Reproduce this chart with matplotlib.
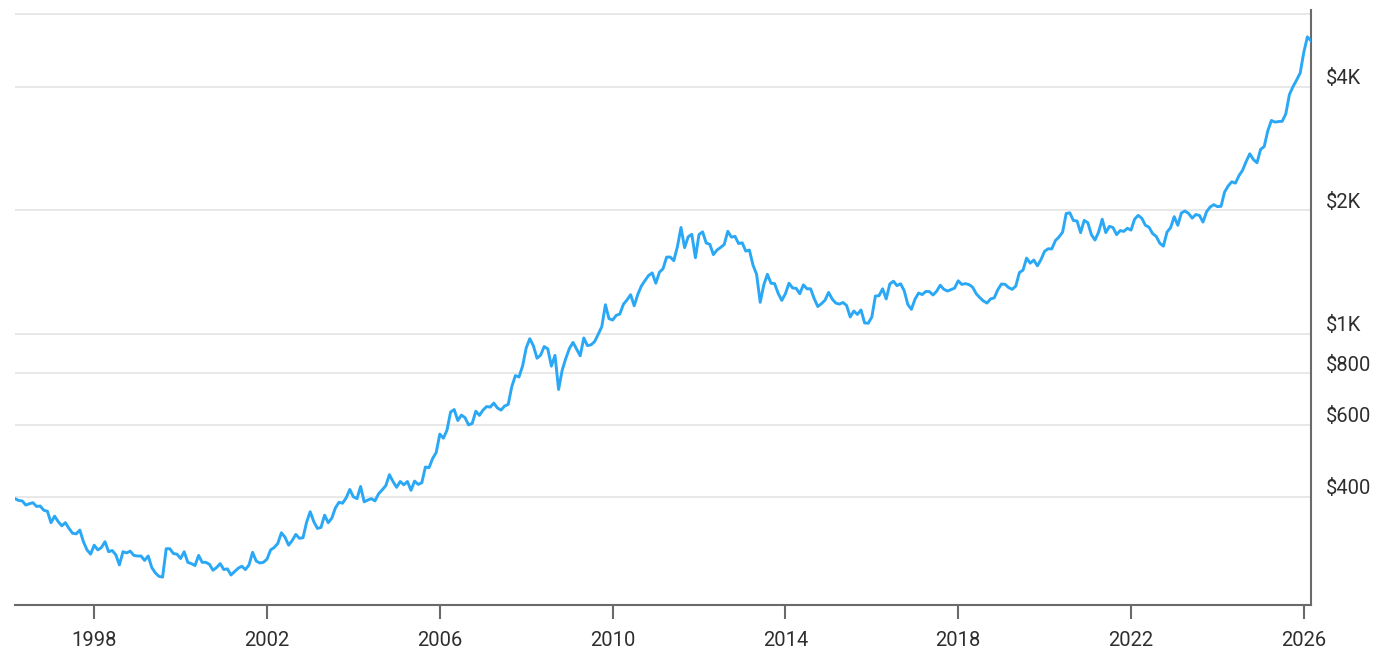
import matplotlib
matplotlib.use("Agg")
import matplotlib.pyplot as plt
import matplotlib.transforms as mtransforms
import numpy as np

# Month-end gold price, USD per troy ounce (series starts March 1996)
start_year = 1996
start_month = 3
gold_1996 = [396, 392, 391, 382, 385, 387, 379, 380, 371, 369]
gold_1997 = [346, 359, 348, 340, 346, 335, 326, 325, 332, 311, 297, 290]
gold_1998 = [305, 297, 301, 311, 294, 296, 289, 273, 294, 292, 295, 288]
gold_1999 = [287, 287, 280, 287, 269, 261, 256, 255, 299, 299, 291, 290]
gold_2000 = [283, 294, 277, 275, 272, 288, 277, 277, 274, 265, 269, 275]
gold_2001 = [266, 267, 258, 263, 268, 271, 266, 273, 293, 279, 276, 277]
gold_2002 = [282, 297, 301, 308, 327, 319, 305, 313, 324, 317, 318, 347]
gold_2003 = [368, 348, 335, 337, 361, 346, 355, 376, 388, 386, 398, 417]
gold_2004 = [400, 396, 424, 389, 393, 396, 391, 407, 416, 426, 453, 436]
gold_2005 = [422, 436, 428, 436, 415, 437, 429, 433, 473, 471, 496, 513]
gold_2006 = [569, 556, 582, 644, 653, 614, 633, 624, 599, 604, 647, 632]
gold_2007 = [651, 664, 662, 677, 659, 651, 666, 672, 743, 790, 784, 834]
gold_2008 = [923, 972, 934, 871, 886, 930, 918, 833, 885, 731, 815, 870]
gold_2009 = [920, 952, 917, 883, 976, 935, 939, 956, 996, 1040, 1176, 1088]
gold_2010 = [1079, 1108, 1116, 1179, 1208, 1244, 1169, 1246, 1307, 1347, 1386, 1406]
gold_2011 = [1327, 1411, 1439, 1536, 1537, 1506, 1629, 1814, 1620, 1722, 1746, 1531]
gold_2012 = [1744, 1770, 1663, 1651, 1558, 1599, 1622, 1649, 1776, 1719, 1726, 1658]
gold_2013 = [1665, 1589, 1598, 1469, 1395, 1192, 1315, 1395, 1327, 1324, 1253, 1205]
gold_2014 = [1251, 1327, 1292, 1289, 1251, 1315, 1286, 1286, 1217, 1164, 1183, 1206]
gold_2015 = [1260, 1214, 1187, 1180, 1191, 1171, 1098, 1135, 1114, 1142, 1062, 1060]
gold_2016 = [1097, 1235, 1237, 1286, 1215, 1321, 1342, 1309, 1323, 1272, 1178, 1146]
gold_2017 = [1213, 1256, 1245, 1267, 1266, 1242, 1268, 1312, 1283, 1270, 1280, 1291]
gold_2018 = [1345, 1318, 1324, 1317, 1298, 1251, 1224, 1201, 1187, 1215, 1222, 1279]
gold_2019 = [1321, 1319, 1295, 1282, 1306, 1409, 1428, 1528, 1485, 1511, 1463, 1515]
gold_2020 = [1588, 1610, 1609, 1686, 1720, 1768, 1963, 1970, 1887, 1882, 1763, 1888]
gold_2021 = [1864, 1743, 1691, 1768, 1900, 1763, 1826, 1814, 1743, 1783, 1775, 1806]
gold_2022 = [1788, 1901, 1942, 1911, 1837, 1817, 1753, 1726, 1661, 1634, 1768, 1812]
gold_2023 = [1928, 1837, 1969, 1990, 1963, 1912, 1951, 1942, 1870, 1983, 2036, 2062]
gold_2024 = [2040, 2043, 2214, 2291, 2345, 2327, 2427, 2503, 2629, 2744, 2657, 2609]
gold_2025 = [2813, 2858, 3123, 3308, 3278, 3288, 3293, 3433, 3825, 4000, 4150, 4320]
gold_2026 = [4850, 5290, 5170]

y_ticks = [400, 600, 800, 1000, 2000, 4000, 6000]
y_labels = ["$400", "$600", "$800", "$1K", "$2K", "$4K", ""]
x_ticks = [1998, 2002, 2006, 2010, 2014, 2018, 2022, 2026]
x_labels = ["1998", "2002", "2006", "2010", "2014", "2018", "2022", "2026"]

prices = np.array(
    gold_1996 + gold_1997 + gold_1998 + gold_1999 + gold_2000 + gold_2001
    + gold_2002 + gold_2003 + gold_2004 + gold_2005 + gold_2006 + gold_2007
    + gold_2008 + gold_2009 + gold_2010 + gold_2011 + gold_2012 + gold_2013
    + gold_2014 + gold_2015 + gold_2016 + gold_2017 + gold_2018 + gold_2019
    + gold_2020 + gold_2021 + gold_2022 + gold_2023 + gold_2024 + gold_2025
    + gold_2026, dtype=float)
dates = start_year + (start_month - 1) / 12 + np.arange(len(prices)) / 12

plt.rcParams["font.family"] = ["Roboto", "DejaVu Sans"]

fig = plt.figure(figsize=(13.78, 6.54), dpi=100)
fig.patch.set_facecolor("white")
ax = fig.add_axes([15 / 1378, 49 / 654, 1296 / 1378, 595 / 654])

ax.plot(dates, prices, color="#2aa8f6", lw=2.1, solid_joinstyle="round",
        clip_on=True, zorder=3)

ax.set_yscale("log")
ax.set_ylim(218, 6150)
ax.set_xlim(dates[0], dates[-1])

ax.yaxis.set_minor_locator(matplotlib.ticker.NullLocator())
ax.set_yticks(y_ticks)
ax.set_yticklabels(y_labels)
ax.yaxis.set_minor_locator(matplotlib.ticker.NullLocator())
ax.yaxis.tick_right()
ax.tick_params(axis="y", which="both", length=0, pad=11, labelsize=14.5,
               labelcolor="#2e2e2e")
offset = mtransforms.ScaledTranslation(0, 10 / 100, fig.dpi_scale_trans)
for lab in ax.get_yticklabels():
    lab.set_transform(lab.get_transform() + offset)

ax.set_xticks(x_ticks)
ax.set_xticklabels(x_labels)
ax.tick_params(axis="x", direction="out", length=10, width=1.5,
               color="#6a6a6a", pad=9, labelsize=14.5, labelcolor="#2e2e2e")

ax.grid(axis="y", which="major", color="#e6e6e6", lw=1.3, zorder=0)
ax.grid(axis="x", visible=False)

for side in ("left", "top"):
    ax.spines[side].set_visible(False)
for side in ("right", "bottom"):
    ax.spines[side].set_color("#6a6a6a")
    ax.spines[side].set_linewidth(1.5)

fig.savefig("out.png", dpi=100, facecolor="white")
